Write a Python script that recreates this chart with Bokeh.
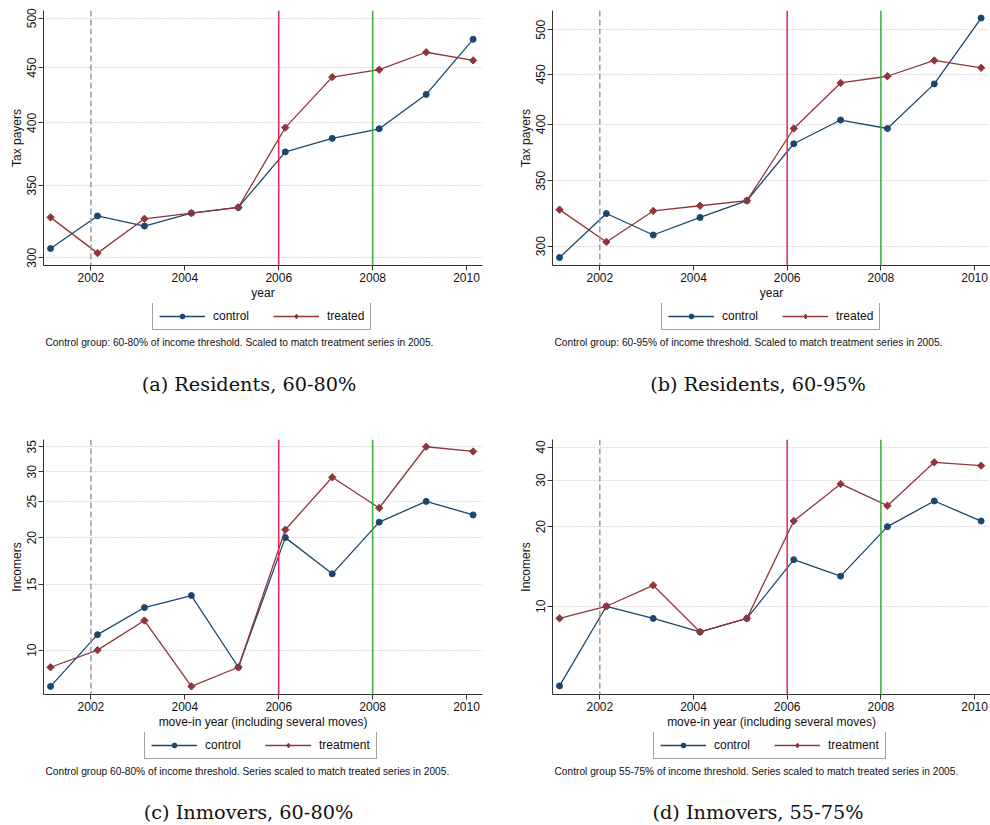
import math
from bokeh.plotting import figure
from bokeh.models import Span, Legend, LegendItem, FixedTicker, NumeralTickFormatter, Label
from bokeh.layouts import column, row
from bokeh.embed import file_html
from bokeh.resources import INLINE

# ---- data ----
years = [2001.14, 2002.14, 2003.14, 2004.14, 2005.14, 2006.14, 2007.14, 2008.14, 2009.14, 2010.14]
x_ticks = [2002, 2004, 2006, 2008, 2010]
event_years = [2002, 2006, 2008]

res80_control = [306, 328, 321, 330, 334, 376, 387, 395, 425, 478]
res80_treated = [327, 303, 326, 330, 334, 396, 441, 448, 465, 457]
res95_control = [292, 324, 308, 321, 334, 382, 404, 396, 440, 514]
res95_treated = [327, 303, 326, 330, 334, 396, 441, 448, 465, 457]
inm80_control = [8, 11, 13, 14, 9, 20, 16, 22, 25, 23]
inm80_treated = [9, 10, 12, 8, 9, 21, 29, 24, 35, 34]
inm55_control = [5, 10, 9, 8, 9, 15, 13, 20, 25, 21]
inm55_treated = [9, 10, 12, 8, 9, 21, 29, 24, 35, 34]

res_ticks = [300, 350, 400, 450, 500]
inm80_ticks = [10, 15, 20, 25, 30, 35]
inm55_ticks = [10, 20, 30, 40]

note_a = "Control group: 60-80% of income threshold. Scaled to match treatment series in 2005."
note_b = "Control group: 60-95% of income threshold. Scaled to match treatment series in 2005."
note_c = "Control group 60-80%  of income threshold. Series scaled to match treated series in 2005."
note_d = "Control group 55-75%  of income threshold. Series scaled to match treated series in 2005."
cap_a = "(a) Residents, 60-80%"
cap_b = "(b) Residents, 60-95%"
cap_c = "(c) Inmovers, 60-80%"
cap_d = "(d) Inmovers, 55-75%"

SANS = "Liberation Sans"
SERIF = "DejaVu Serif"
NAVY = "#1a476f"
MAROON = "#90353b"
EVENT_STYLE = {2002: ("#9a9a9a", "6 3"), 2006: ("#e0245a", "solid"), 2008: ("#3aaa3a", "solid")}
DIAMOND_ANGLE = math.pi / 4
NAN = float("nan")

FRAME_H = 255
BELOW = 38


def add_series(p, xs, ys, color, marker, legend_key=False):
    ln = p.line(xs, ys, line_color=color, line_width=1.3)
    if marker == "circle":
        sc = p.scatter(xs, ys, marker="circle", size=6, fill_color=color, line_color=color)
    elif legend_key:
        sc = p.scatter(xs, ys, marker="diamond", size=9, fill_color=color, line_color=color)
    else:
        sc = p.scatter(xs, ys, marker="square", size=5.2, angle=DIAMOND_ANGLE,
                       fill_color=color, line_color=color)
    return ln, sc


def make_main(w, left, right, top, yr, yticks, ylabel, xlabel, ctrl, trt):
    p = figure(width=w, height=top + FRAME_H + BELOW, x_range=(2000.99, 2010.34), y_range=yr,
               y_axis_type="log", output_backend="svg", toolbar_location=None,
               min_border_left=left, min_border_right=right,
               min_border_top=top, min_border_bottom=BELOW)
    p.outline_line_color = None
    p.background_fill_color = "white"
    p.border_fill_color = "white"

    p.xaxis[0].ticker = FixedTicker(ticks=x_ticks)
    p.yaxis[0].ticker = FixedTicker(ticks=yticks)
    p.xaxis[0].formatter = NumeralTickFormatter(format="0")
    p.yaxis[0].formatter = NumeralTickFormatter(format="0")
    for ax in (p.xaxis[0], p.yaxis[0]):
        ax.axis_line_color = "#333333"
        ax.major_tick_line_color = "#333333"
        ax.minor_tick_line_color = None
        ax.major_tick_in = 0
        ax.major_tick_out = 5
        ax.major_label_text_font = SANS
        ax.major_label_text_font_size = "12px"
        ax.major_label_text_color = "#111111"
        ax.axis_label_text_font = SANS
        ax.axis_label_text_font_size = "12px"
        ax.axis_label_text_font_style = "normal"
        ax.axis_label_text_color = "#111111"
    p.xaxis[0].axis_label = xlabel
    p.yaxis[0].axis_label = ylabel
    p.xaxis[0].major_label_standoff = 2
    p.xaxis[0].axis_label_standoff = 1
    p.yaxis[0].major_label_orientation = "vertical"
    p.yaxis[0].major_label_standoff = 2
    p.yaxis[0].axis_label_standoff = 1

    p.xgrid.visible = False
    p.ygrid.grid_line_color = "#bdbdbd"
    p.ygrid.grid_line_dash = "1 2"
    p.ygrid.grid_line_width = 1

    for yv in event_years:
        col, dash = EVENT_STYLE[yv]
        p.add_layout(Span(location=yv, dimension="height", line_color=col,
                          line_dash=dash, line_width=1.5))

    add_series(p, years, ctrl, NAVY, "circle")
    add_series(p, years, trt, MAROON, "diamond")
    return p


def make_footer(w, h, left, right, trt_label, leg_x, leg_bottom,
                note, note_x, note_y, caption, cap_x, cap_y):
    # the footer's frame is aligned with the main plot's frame by the column layout,
    # so its x coordinates are the panel's own pixel positions
    f = figure(width=w, height=h, x_range=(left, w - right), y_range=(h, 0),
               x_axis_location=None, y_axis_location=None,
               output_backend="svg", toolbar_location=None,
               min_border_left=left, min_border_right=right,
               min_border_top=0, min_border_bottom=0)
    f.outline_line_color = None
    f.xgrid.visible = False
    f.ygrid.visible = False
    f.background_fill_color = "white"
    f.border_fill_color = "white"

    # legend keys: renderers with a single missing value (nothing drawn in the frame)
    l1, s1 = add_series(f, [NAN], [NAN], NAVY, "circle", legend_key=True)
    l2, s2 = add_series(f, [NAN], [NAN], MAROON, "diamond", legend_key=True)
    legend = Legend(items=[LegendItem(label="control", renderers=[l1, s1]),
                           LegendItem(label=trt_label, renderers=[l2, s2])],
                    orientation="horizontal", location=(leg_x, h - leg_bottom),
                    glyph_width=46, glyph_height=12, label_height=12,
                    label_standoff=8, spacing=24, padding=6, margin=0,
                    border_line_color="#444444", border_line_width=1,
                    label_text_font=SANS, label_text_font_size="12px",
                    label_text_color="#111111", background_fill_color="white")
    f.add_layout(legend)

    f.add_layout(Label(x=note_x, y=note_y, text=note,
                       text_align="left", text_baseline="middle",
                       text_font=SANS, text_font_size="10.2px", text_color="#111111"))
    f.add_layout(Label(x=cap_x, y=cap_y, text=caption,
                       text_align="center", text_baseline="middle",
                       text_font=SERIF, text_font_size="19.3px", text_color="#111111"))
    return f


top_h = 10 + FRAME_H + BELOW          # 303
bot_h = 9 + FRAME_H + BELOW           # 302
ft_top = 430 - top_h                  # 127
ft_bot = 825 - 430 - bot_h            # 93

pa = make_main(495, 43, 13, 10, (295.1, 508.3), res_ticks, "Tax payers", "year",
               res80_control, res80_treated)
fa = make_footer(495, ft_top, 43, 13, "treated", 109, 27, note_a, 45, 38.7, cap_a, 248.5, 81)
pb = make_main(495, 57, 0, 10, (286.6, 523.2), res_ticks, "Tax payers", "year",
               res95_control, res95_treated)
fb = make_footer(495, ft_top, 57, 0, "treated", 109, 27, note_b, 59, 38.7, cap_b, 262.5, 81)
pc = make_main(495, 43, 13, 9, (7.61, 36.6), inm80_ticks, "Incomers",
               "move-in year (including several moves)", inm80_control, inm80_treated)
fc = make_footer(495, ft_bot, 43, 13, "treatment", 101, 26.7, note_c, 45, 38.7, cap_c, 248, 79.5)
pd = make_main(495, 57, 0, 9, (4.64, 42.7), inm55_ticks, "Incomers",
               "move-in year (including several moves)", inm55_control, inm55_treated)
fd = make_footer(495, ft_bot, 57, 0, "treatment", 101, 26.7, note_d, 59, 38.7, cap_d, 262.5, 79.5)

layout = column(row(column(pa, fa), column(pb, fb)), row(column(pc, fc), column(pd, fd)))
open("out.html", "w").write(file_html(layout, INLINE))
